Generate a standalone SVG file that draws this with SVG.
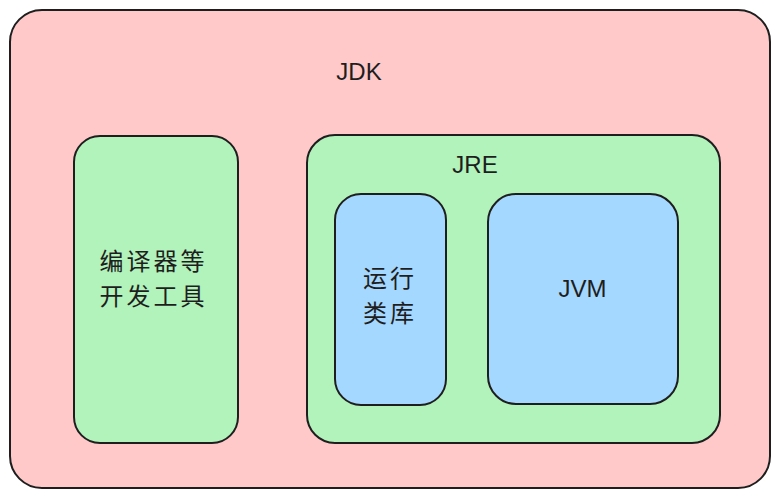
<svg xmlns="http://www.w3.org/2000/svg" width="779" height="497" viewBox="0 0 779 497">
<style>
.box{stroke:#1e1e1e;stroke-width:2;stroke-linejoin:round}
.pink{fill:#ffc9c9}
.green{fill:#b2f2bb}
.blue{fill:#a5d8ff}
.lbl{font-family:"Liberation Sans","Noto Sans CJK SC",sans-serif;font-size:24px;fill:#1e1e1e;text-anchor:middle}
.cjk{font-family:"Noto Sans CJK SC",sans-serif;font-size:24px;fill:#1e1e1e;text-anchor:middle;letter-spacing:3px}
</style>
<rect width="779" height="497" fill="#ffffff"/>
<g id="jdk">
<rect class="box pink" x="10" y="10" width="760" height="478" rx="32" ry="32"/>
<text class="lbl" x="359" y="80">JDK</text>
</g>
<g id="tools">
<rect class="box green" x="74" y="136" width="164" height="307" rx="26" ry="26"/>
<text class="cjk" x="153.5" y="270">编译器等</text>
<text class="cjk" x="153.5" y="305">开发工具</text>
</g>
<g id="jre">
<rect class="box green" x="307" y="135" width="413" height="308" rx="28" ry="28"/>
<text class="lbl" x="475" y="173">JRE</text>
</g>
<g id="lib">
<rect class="box blue" x="335" y="194" width="111" height="211" rx="26" ry="26"/>
<text class="cjk" x="390" y="287">运行</text>
<text class="cjk" x="390" y="322">类库</text>
</g>
<g id="jvm">
<rect class="box blue" x="488" y="194" width="190" height="210" rx="28" ry="28"/>
<text class="lbl" x="582.5" y="297">JVM</text>
</g>
<g id="connectors"></g>
</svg>
